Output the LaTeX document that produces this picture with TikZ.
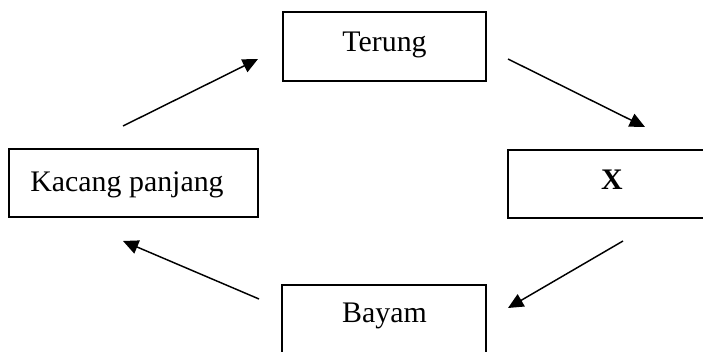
\documentclass[tikz,border=0pt]{standalone}
\usepackage{fontspec}
\setmainfont{Liberation Serif}
\usetikzlibrary{arrows.meta}
\begin{document}
\begin{tikzpicture}[x=0.75pt,y=-0.75pt,
  box/.style={draw=black,line width=1.2pt,rectangle,inner sep=0pt},
  lbl/.style={font=\fontsize{22.4pt}{26pt}\selectfont,anchor=base,inner sep=0pt},
  flow/.style={line width=1.1pt,-{Triangle[length=11.5pt,width=10.5pt]}}]
\useasboundingbox (0,0) rectangle (703,352);
\clip (0,0) rectangle (703,352);
\fill[white] (0,0) rectangle (703,352);
% boxes
\node[box,minimum width=203*0.75pt,minimum height=69*0.75pt] (terung) at (384.5,46.5) {};
\node[box,minimum width=249*0.75pt,minimum height=68*0.75pt] (kacang) at (133.5,183) {};
\node[box,minimum width=208*0.75pt,minimum height=68*0.75pt] (x) at (612,184) {};
\node[box,minimum width=204*0.75pt,minimum height=68*0.75pt] (bayam) at (384,319) {};
% labels
\node[lbl] (tterung) at (384.5,52) {Terung};
\node[lbl] (tkacang) at (127,192) {Kacang panjang};
\node[lbl] (tx) at (612,190) {\textbf{X}};
\node[lbl] (tbayam) at (384.5,323) {Bayam};
% arrow end points
\coordinate (a1s) at (123,126);
\coordinate (a1e) at (258,59);
\coordinate (a2s) at (508,59);
\coordinate (a2e) at (645,127);
\coordinate (a3s) at (623,241);
\coordinate (a3e) at (508,308);
\coordinate (a4s) at (259,299);
\coordinate (a4e) at (123,241);
\draw[flow] (a1s) -- (a1e);
\draw[flow] (a2s) -- (a2e);
\draw[flow] (a3s) -- (a3e);
\draw[flow] (a4s) -- (a4e);
\end{tikzpicture}
\end{document}
